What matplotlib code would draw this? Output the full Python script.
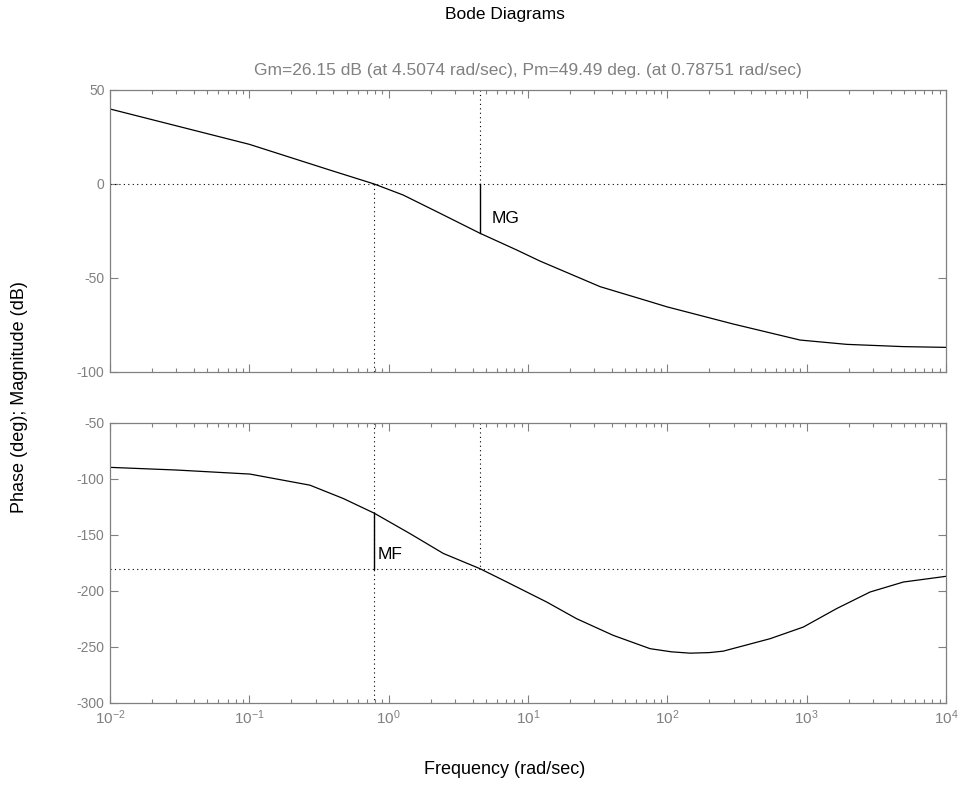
import numpy as np
import matplotlib
matplotlib.use("Agg")
import matplotlib.pyplot as plt
from matplotlib.ticker import LogLocator, LogFormatterMathtext, NullFormatter

plt.rcParams['font.family'] = ['Liberation Sans', 'DejaVu Sans']
plt.rcParams['mathtext.default'] = 'regular'
plt.rcParams['axes.unicode_minus'] = False

# gain / phase margins
gm_db = 26.15
w_gm = 4.5074
pm_deg = 49.49
w_pm = 0.78751

# magnitude curve (rad/sec, dB)
mag_w = [0.01, 0.1, 0.379, 0.7875, 1.27, 2.34, 4.5074, 8.3, 12.2, 16.1, 32.9,
         75.2, 99, 298, 896, 1940, 4940, 1e4]
mag_db = [39.9, 21.1, 7.4, 0.0, -5.85, -15.6, -26.15, -35.1, -41.0, -44.8, -54.6,
          -62.6, -65.3, -74.5, -83.0, -85.3, -86.5, -86.9]

# phase curve (rad/sec, deg)
ph_w = [0.01, 0.0301, 0.101, 0.272, 0.472, 0.7875, 1.42, 2.47, 4.5074, 6.65,
        13.6, 22.3, 40.9, 75.2, 107, 145.5, 200, 252, 546, 946, 1641, 2851,
        4940, 1e4]
ph_deg = [-89.6, -92.0, -95.6, -105.5, -117.4, -130.51, -148.7, -166.5, -180.0,
          -190.4, -209.8, -224.7, -239.6, -251.5, -254.3, -255.5, -255.0,
          -253.7, -242.6, -232.2, -215.7, -200.9, -192.0, -186.9]

mag_ticks = [-100, -50, 0, 50]
ph_ticks = [-300, -250, -200, -150, -100, -50]
xlim = (1e-2, 1e4)

grey = '#808080'
dot = (0, (1, 3))

W, H = 958, 787
fig = plt.figure(figsize=(W / 100, H / 100), dpi=100)
ax1 = fig.add_axes([110 / W, 1 - 372 / H, 836 / W, 282 / H])
ax2 = fig.add_axes([110 / W, 1 - 703 / H, 836 / W, 280 / H])


def style(ax, yticks):
    ax.set_xscale('log')
    ax.set_xlim(*xlim)
    ax.set_ylim(yticks[0], yticks[-1])
    ax.set_yticks(yticks)
    ax.xaxis.set_major_locator(LogLocator(base=10, numticks=10))
    ax.xaxis.set_minor_locator(LogLocator(base=10, subs=np.arange(2, 10), numticks=20))
    ax.xaxis.set_minor_formatter(NullFormatter())
    ax.tick_params(which='both', direction='in', top=True, right=True,
                   colors=grey, labelcolor=grey, width=0.8)
    ax.tick_params(which='major', length=6)
    ax.tick_params(which='minor', length=3)
    ax.tick_params(axis='y', labelsize=10, pad=4)
    ax.tick_params(axis='x', labelsize=11, pad=4)
    for s in ax.spines.values():
        s.set_color(grey)
        s.set_linewidth(0.9)


style(ax1, mag_ticks)
style(ax2, ph_ticks)
ax1.xaxis.set_major_formatter(NullFormatter())
ax2.xaxis.set_major_formatter(LogFormatterMathtext())

# magnitude
ax1.plot(mag_w, mag_db, color='black', lw=0.9)
ax1.axhline(0, color='black', ls=dot, lw=0.8)
ax1.plot([w_pm, w_pm], [0, mag_ticks[0]], color='black', ls=dot, lw=0.8)
ax1.plot([w_gm, w_gm], [mag_ticks[-1], 0], color='black', ls=dot, lw=0.8)
ax1.plot([w_gm, w_gm], [0, -gm_db], color='black', lw=1.0)
ax1.text(5.45, -18.5, 'MG', fontsize=12.5, ha='left', va='center')

# phase
ax2.plot(ph_w, ph_deg, color='black', lw=0.9)
ax2.axhline(-180, color='black', ls=dot, lw=0.8)
ax2.plot([w_pm, w_pm], [ph_ticks[-1], ph_ticks[0]], color='black', ls=dot, lw=0.8)
ax2.plot([w_gm, w_gm], [ph_ticks[-1], -180], color='black', ls=dot, lw=0.8)
ax2.plot([w_pm, w_pm], [-180, -180 + pm_deg], color='black', lw=1.0)
ax2.text(0.84, -167, 'MF', fontsize=12.5, ha='left', va='center')

fig.text(505 / W, 1 - 15 / H, 'Bode Diagrams', fontsize=12.5, ha='center', va='center')
fig.text(528 / W, 1 - 71 / H,
         'Gm=%.2f dB (at %.4f rad/sec), Pm=%.2f deg. (at %.5f rad/sec)'
         % (gm_db, w_gm, pm_deg, w_pm),
         fontsize=12.5, color=grey, ha='center', va='center')
fig.text(505 / W, 1 - 770 / H, 'Frequency (rad/sec)', fontsize=13,
         ha='center', va='center')
fig.text(20 / W, 1 - 397 / H, 'Phase (deg); Magnitude (dB)', fontsize=13,
         rotation=90, ha='center', va='center')

fig.savefig('out.png', dpi=100, facecolor='white')
